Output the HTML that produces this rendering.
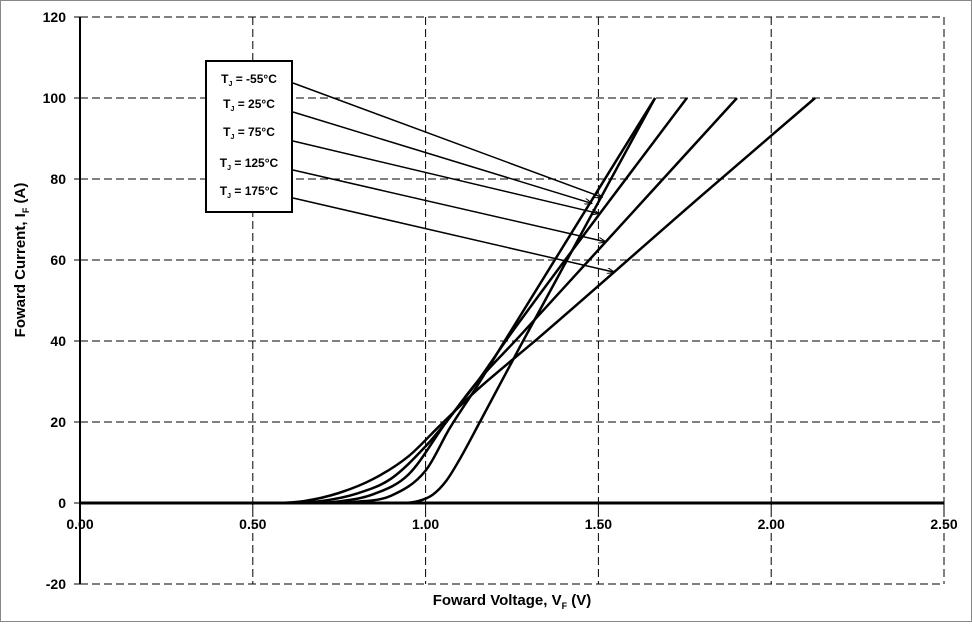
<!DOCTYPE html>
<html><head><meta charset="utf-8"><style>
body{margin:0;background:#fff}
svg text{font-family:"Liberation Sans",Arial,sans-serif;font-weight:bold;fill:#000}
</style></head><body>
<svg id="chart" width="972" height="622" xmlns="http://www.w3.org/2000/svg">
<rect x="0.5" y="0.5" width="971" height="621" fill="#fff" stroke="#888"/>
<g id="grid"></g><g id="axes"></g><g id="series"></g><g id="legend"></g>
</svg>
<script>
const xTicks=[0,0.5,1.0,1.5,2.0,2.5];
const yTicks=[-20,0,20,40,60,80,100,120];
const legendTemps=["-55°C","25°C","75°C","125°C","175°C"];
const vM55=[0,0.93,0.98,1.02,1.06,1.1,1.157,1.282,1.664];
const iM55=[0,0,0.5,2,5.5,11,20,40,100];
const v25=[0,0.7,0.8,0.9,1.0,1.07,1.15,1.236,1.664];
const i25=[0,0,0.3,1.8,8,18.5,29,41,100];
const v75=[0,0.65,0.75,0.85,0.95,1.06,1.15,1.24,1.5,1.756];
const i75=[0,0,0.4,2.2,7,20,30,41,71,100];
const v125=[0,0.6,0.7,0.8,0.9,1.0,1.05,1.15,1.27,1.5,1.901];
const i125=[0,0,0.5,2.3,6,14,19,30,41,62.5,100];
const v175=[0,0.55,0.65,0.75,0.85,0.95,1.04,1.15,1.33,1.8,2.127];
const i175=[0,0,0.5,2.5,6,11.5,19,28,41,76,100];
const vs=[vM55,v25,v75,v125,v175], is=[iM55,i25,i75,i125,i175];
const arrowV=[1.51,1.48,1.50,1.52,1.545];
const arrowI=[75.5,74,71.5,64.5,57];

const X=v=>80+345.6*v, Y=i=>503-4.05*i;
const NS="http://www.w3.org/2000/svg";
function mk(t,a,p){const e=document.createElementNS(NS,t);for(const k in a)e.setAttribute(k,a[k]);p.appendChild(e);return e;}
const grid=document.getElementById('grid'),axes=document.getElementById('axes'),ser=document.getElementById('series'),leg=document.getElementById('legend');
xTicks.forEach(v=>{if(v>0){const l=mk('line',{x1:X(v),x2:X(v),y1:Y(120),y2:Y(-20),stroke:'#000','stroke-width':1,'stroke-dasharray':'8,4'},grid);

}
const tk=mk('line',{x1:X(v),x2:X(v),y1:Y(0),y2:Y(0)+6,stroke:'#000','stroke-width':1},axes);


const t=mk('text',{x:X(v),y:529,'text-anchor':'middle','font-size':14},axes);t.textContent=v.toFixed(2);

});
yTicks.forEach(i=>{if(i!==0){const l=mk('line',{x1:X(0),x2:X(2.5),y1:Y(i),y2:Y(i),stroke:'#000','stroke-width':1,'stroke-dasharray':'8,4'},grid);

}
const tk=mk('line',{x1:X(0)-6,x2:X(0),y1:Y(i),y2:Y(i),stroke:'#000','stroke-width':1},axes);


const t=mk('text',{x:66,y:Y(i)+5,'text-anchor':'end','font-size':14},axes);t.textContent=i;

});
const ya=mk('line',{x1:X(0),x2:X(0),y1:Y(120),y2:Y(-20),stroke:'#000','stroke-width':2},axes);


const xa=mk('line',{x1:X(0),x2:X(2.5),y1:Y(0),y2:Y(0),stroke:'#000','stroke-width':3},axes);


const xt=mk('text',{x:512,y:605,'text-anchor':'middle','font-size':15},axes);
xt.innerHTML='Foward Voltage, V<tspan font-size="9" dy="4">F</tspan><tspan dy="-4"> (V)</tspan>';


const yt=mk('text',{x:0,y:0,'text-anchor':'middle','font-size':15,transform:'translate(25,260) rotate(-90)'},axes);
yt.innerHTML='Foward Current, I<tspan font-size="9" dy="4">F</tspan><tspan dy="-4"> (A)</tspan>';


function monotone(px){const n=px.length,d=[],m=[];
for(let k=0;k<n-1;k++)d.push((px[k+1][1]-px[k][1])/(px[k+1][0]-px[k][0]));
m[0]=d[0];m[n-1]=d[n-2];
for(let k=1;k<n-1;k++){m[k]=(d[k-1]*d[k]<=0)?0:(d[k-1]+d[k])/2;}
for(let k=0;k<n-1;k++){if(d[k]===0){m[k]=0;m[k+1]=0;continue;}const a=m[k]/d[k],b=m[k+1]/d[k],s=a*a+b*b;if(s>9){const t=3/Math.sqrt(s);m[k]=t*a*d[k];m[k+1]=t*b*d[k];}}
let p='M'+px[0][0]+','+px[0][1];
for(let k=0;k<n-1;k++){const h=(px[k+1][0]-px[k][0])/3;
p+=' C'+(px[k][0]+h)+','+(px[k][1]+m[k]*h)+' '+(px[k+1][0]-h)+','+(px[k+1][1]-m[k+1]*h)+' '+px[k+1][0]+','+px[k+1][1];}
return p;}
vs.forEach((v,s)=>{const px=v.map((x,k)=>[X(x),Y(is[s][k])]);
const p=mk('path',{d:monotone(px),fill:'none',stroke:'#000','stroke-width':2.5},ser);

});
const defs=mk('defs',{},leg);const mkr=mk('marker',{id:'ah',markerWidth:8,markerHeight:6,refX:7,refY:3,orient:'auto',markerUnits:'userSpaceOnUse'},defs);
mk('path',{d:'M0,0 L8,3 L0,6',fill:'none',stroke:'#000','stroke-width':1},mkr);
const box=mk('rect',{x:206,y:61,width:86,height:151,fill:'#fff',stroke:'#000','stroke-width':2},leg);


const ly=[79,104,132,163,191],ay=[83,112,141,170,198];
legendTemps.forEach((t,k)=>{const tx=mk('text',{x:249,y:ly[k]+4,'text-anchor':'middle','font-size':12},leg);
tx.innerHTML='T<tspan font-size="7" dy="3">J</tspan><tspan dy="-3"> = '+t+'</tspan>';


const a=mk('line',{x1:293,y1:ay[k],x2:X(arrowV[k]),y2:Y(arrowI[k]),stroke:'#000','stroke-width':1.5,'marker-end':'url(#ah)'},leg);

});
</script>
</body></html>
